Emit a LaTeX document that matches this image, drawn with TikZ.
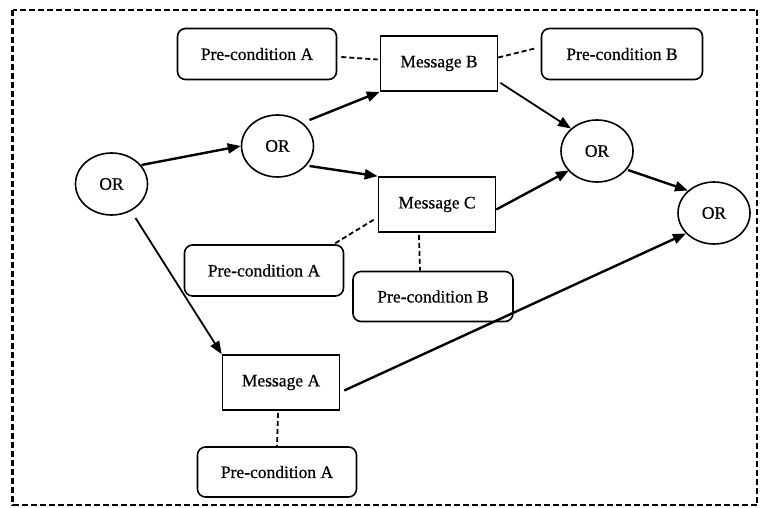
\documentclass[tikz,border=0pt]{standalone}
\usepackage{fontspec}
\setmainfont{Liberation Serif}
\newfontfamily\labelfont[BoldFont=Liberation Serif, BoldFeatures={FakeBold=0.6}]{Liberation Serif}
\usetikzlibrary{arrows.meta,shapes.geometric,calc}
\begin{document}
\begin{tikzpicture}[x=1pt,y=-1pt,
  every node/.style={font=\labelfont\bfseries\fontsize{17.5}{20}\selectfont, inner sep=0pt},
  gate/.style={draw, ellipse, line width=1.6pt, minimum width=72pt, minimum height=62pt},
  msg/.style={draw, rectangle, line width=1.6pt, minimum width=117pt, minimum height=55pt},
  cond/.style={draw, rectangle, rounded corners=8pt, line width=1.6pt, minimum width=159pt, minimum height=51pt},
  flow/.style={line width=2.4pt, -{Triangle[length=13pt,width=10pt]}},
  thinflow/.style={line width=1.8pt, -{Triangle[length=13pt,width=10pt]}},
  link/.style={line width=1.8pt, dash pattern=on 5pt off 3pt}
]
\useasboundingbox (0,0) rectangle (765,508);
% outer frame
\draw[line width=2.2pt, dash pattern=on 6pt off 3pt] (12.5,10) rectangle (757,505);

% gates
\node[gate] (or1) at (111.5,184) {OR};
\node[gate] (or2) at (277.5,146) {OR};
\node[gate] (or3) at (597,151) {OR};
\node[gate] (or4) at (714,213) {OR};

% messages
\node[msg] (mb) at (439,63.5) {Message B};
\node[msg] (mc) at (437,204.5) {Message C};
\node[msg] (ma) at (281,382.5) {Message A};

% pre-conditions
\node[cond] (pa1) at (257,54) {Pre-condition A};
\node[cond, minimum width=161pt] (pb1) at (622,54) {Pre-condition B};
\node[cond] (pa2) at (264,270.5) {Pre-condition A};
\node[cond, minimum width=160pt, minimum height=50pt] (pb2) at (433,296.5) {Pre-condition B};
\node[cond, minimum height=50pt] (pa3) at (277,472) {Pre-condition A};

% flows
\draw[flow] ($(or1)+(30,-19)$) -- (or2.west);
\draw[flow] ($(or2)+(32,-26)$) -- (mb.south west);
\draw[flow] ($(or2)+(32,20)$) -- (mc.north west);
\draw[thinflow] ($(or1)+(24,34)$) -- (ma.north west);
\draw[thinflow] ($(mb.south east)+(2,-9)$) -- (or3.north west);
\draw[flow] ($(mc.east)+(0,5)$) -- ($(or3.south west)+(-2,-3)$);
\draw[flow] ($(or3)+(31,19)$) -- (or4.north west);
\draw[flow] ($(ma.east)+(4,8)$) -- ($(or4.south west)+(-2,-2)$);

% pre-condition links
\draw[link] ($(pa1.east)+(4,3)$) -- ($(mb.west)+(-2,-4)$);
\draw[link] ($(mb.east)+(0,-6)$) -- ($(pb1.west)+(-4,-6)$);
\draw[link] ($(pa2.north east)+(-9,-1)$) -- ($(mc.west)+(-2,14)$);
\draw[link] ($(mc.south)+(-18,2)$) -- ($(pb2.north)+(-13,0)$);
\draw[link] ($(ma.south)+(-3,2)$) -- (pa3.north);
\end{tikzpicture}
\end{document}
